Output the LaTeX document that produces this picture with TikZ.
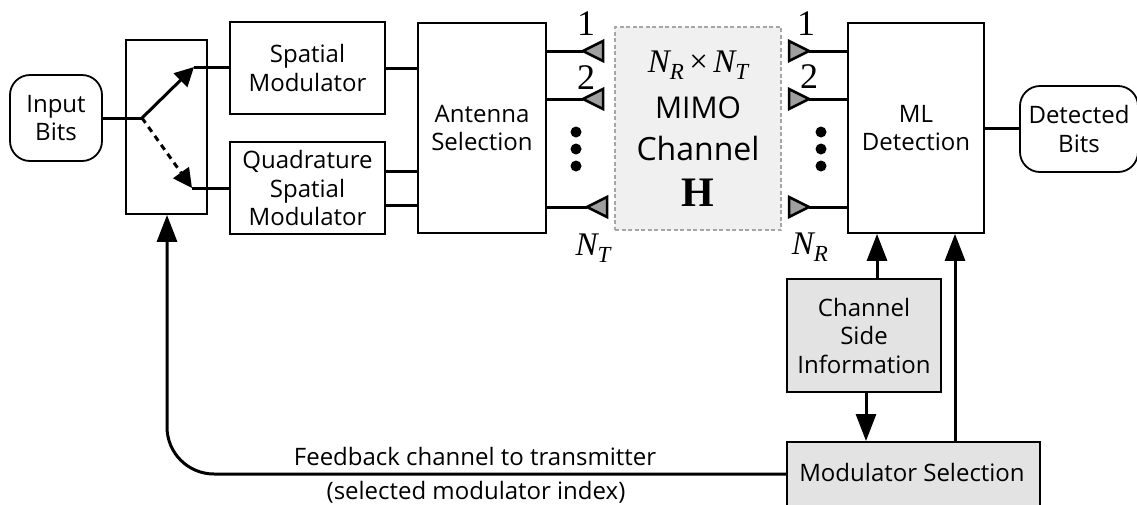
\documentclass[tikz,border=0pt]{standalone}
\usepackage{fontspec}
\setmainfont{Open Sans}
\newfontfamily\timesfont{Liberation Serif}
\usetikzlibrary{arrows.meta}
\newcommand{\symN}[1]{{\timesfont\itshape N\lower7pt\hbox{\fontsize{23}{23}\selectfont #1}}}
\tikzset{
	every node/.style={inner sep=0pt, text=black},
	labeltext/.style={font=\fontsize{24}{28.5}\selectfont, align=center},
	blockbox/.style={labeltext, draw, line width=1.8pt},
	roundbox/.style={blockbox, rounded corners=20pt},
	greybox/.style={blockbox, fill=gray!22},
	channelbox/.style={draw=gray!70, line width=1.8pt, dash pattern=on 4pt off 2.5pt, fill=gray!12},
	digit/.style={font=\fontsize{36}{36}\selectfont\timesfont},
	symtext/.style={font=\fontsize{33}{33}\selectfont},
	wire/.style={line width=3pt},
	swarrow/.style={wire, -{Triangle[length=19pt,width=19pt]}},
	bigarrow/.style={wire, -{Triangle[length=27pt,width=20pt]}},
	antenna/.style={draw, line width=2.5pt, fill=gray!75}
}
\begin{document}
\begin{tikzpicture}[x=1pt,y=-1pt]
		\useasboundingbox (0,0) rectangle (1137,504);
		\clip (0,0) rectangle (1137,504);
		\def\r{5.5}
		\coordinate (J) at (142,118);
		\coordinate (U1) at (194,67);
		\coordinate (U2) at (192,188);
		\coordinate (T1) at (583,51);
		\coordinate (T2) at (583,99);
		\coordinate (T3) at (587,207);
		\coordinate (R1) at (809,51);
		\coordinate (R2) at (809,99);
		\coordinate (R3) at (809,207);
		\coordinate (Q1) at (385,171);
		\coordinate (Q2) at (385,205);
		\coordinate (A1) at (877,0);
		\coordinate (A2) at (955,0);
		\coordinate (A3) at (866,0);
		\coordinate (F0) at (167,474);
		\node[roundbox, minimum width=92pt, minimum height=86pt] (input) at (56,118) {Input\\Bits};
		\node[blockbox, minimum width=81pt, minimum height=174pt] (switch) at (166.5,127) {};
		\node[blockbox, minimum width=155pt, minimum height=92pt] (spatial) at (307.5,68) {Spatial\\Modulator};
		\node[blockbox, minimum width=155pt, minimum height=92pt] (quad) at (307.5,188) {Quadrature\\Spatial\\Modulator};
		\node[blockbox, minimum width=128pt, minimum height=210pt] (antsel) at (482,128) {Antenna\\Selection};
		\node[channelbox, minimum width=166pt, minimum height=203pt] (channel) at (698,128.5) {};
		\node[blockbox, minimum width=136pt, minimum height=210pt] (ml) at (916,128) {ML\\Detection};
		\node[roundbox, minimum width=118pt, minimum height=86pt] (detected) at (1079,129) {Detected\\Bits};
		\node[greybox, minimum width=154pt, minimum height=113pt] (csi) at (864,335.5) {Channel\\Side\\Information};
		\node[greybox, minimum width=253pt, minimum height=100pt, anchor=north west] (select) at (786,441) {};
		\node[labeltext] (selecttext) at (912,472) {Modulator Selection};
		\node[symtext] (dim) at (698,65) {\symN{R}\,{\timesfont×}\,\symN{T}};
		\node[font=\fontsize{30}{30}\selectfont] (mimo) at (698,108) {MIMO};
		\node[font=\fontsize{32}{32}\selectfont] (chan) at (698,148) {Channel};
		\node[font=\fontsize{42}{42}\selectfont\timesfont\bfseries] (hmat) at (698,193) {H};
		\node[digit] (tx1) at (586,24) {1};
		\node[digit] (tx2) at (586,78) {2};
		\node[digit] (rx1) at (806,24) {1};
		\node[digit] (rx2) at (809,77) {2};
		\node[symtext] (ntx) at (593,248) {\symN{T}};
		\node[symtext] (nrx) at (810,247) {\symN{R}};
		\node[labeltext] (fbtop) at (475,456) {Feedback channel to transmitter};
		\node[labeltext] (fbbot) at (476,492) {(selected modulator index)};
		\draw[wire] (input.east) -- (J);
		\draw[swarrow] (J) -- (U1);
		\draw[swarrow, dash pattern=on 6pt off 5pt] (J) -- (U2);
		\draw[wire] (U1) -- (spatial.west |- U1);
		\draw[wire] (U2) -- (quad.west |- U2);
		\draw[wire] (spatial.east) -- (antsel.west |- spatial.east);
		\draw[wire] (Q1) -- (antsel.west |- Q1);
		\draw[wire] (Q2) -- (antsel.west |- Q2);
		\foreach \n in {1,2,3} {
			\draw[wire] (antsel.east |- T\n) -- (T\n);
			\draw[antenna] (T\n) -- ++(20,-10) -- ++(0,20) -- cycle;
			\draw[wire] (ml.west |- R\n) -- (R\n);
			\draw[antenna] (R\n) -- ++(-20,-10) -- ++(0,20) -- cycle;
		}
		\foreach \y in {132,149,166} {
			\fill (576,\y) circle [radius=\r];
			\fill (821,\y) circle [radius=\r];
		}
		\draw[wire] (ml.east) -- (detected.west |- ml.east);
		\draw[bigarrow] (csi.north -| A1) -- (ml.south -| A1);
		\draw[bigarrow] (select.north -| A2) -- (ml.south -| A2);
		\draw[bigarrow] (csi.south -| A3) -- (select.north -| A3);
		\draw[bigarrow, rounded corners=47pt] (select.west |- F0) -- (F0) -- (switch.south -| F0);
\end{tikzpicture}
\end{document}
